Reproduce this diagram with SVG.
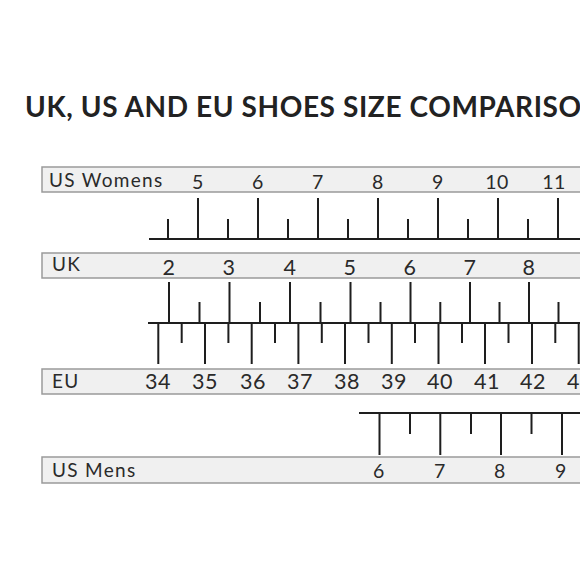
<svg xmlns="http://www.w3.org/2000/svg" width="580" height="580" viewBox="0 0 580 580">
<style>
.bar{fill:#f0f0f0;stroke:#9a9a9a;stroke-width:1.5}
.lbl{font-family:Lato,"Open Sans",sans-serif;font-size:19px;letter-spacing:1.3px;fill:#2a2a2a}
.num{font-family:Lato,"Open Sans",sans-serif;font-size:19.5px;letter-spacing:0.5px;fill:#2a2a2a;text-anchor:middle}
.big{font-size:21.5px}
.tk{stroke:#1e1e1e;stroke-width:2;fill:none}
.title{font-family:Lato,"Open Sans",sans-serif;font-size:28px;font-weight:bold;letter-spacing:0.6px;fill:#222}
</style>
<rect width="580" height="580" fill="#fff"/>
<text class="title" x="25" y="117">UK, US AND EU SHOES SIZE COMPARISON</text>

<g id="us-womens">
<rect class="bar" x="42" y="167" width="545" height="25"/>
<text class="lbl" x="49" y="187">US Womens</text>
<text class="num" x="198" y="189">5</text>
<text class="num" x="258" y="189">6</text>
<text class="num" x="318" y="189">7</text>
<text class="num" x="378" y="189">8</text>
<text class="num" x="438" y="189">9</text>
<text class="num" x="497" y="189">10</text>
<text class="num" x="554" y="189">11</text>
</g>

<g id="uk">
<rect class="bar" x="42" y="253" width="545" height="25"/>
<text class="lbl" x="52" y="271">UK</text>
<text class="num big" x="169" y="275">2</text>
<text class="num big" x="229" y="275">3</text>
<text class="num big" x="290" y="275">4</text>
<text class="num big" x="350" y="275">5</text>
<text class="num big" x="410" y="275">6</text>
<text class="num big" x="470" y="275">7</text>
<text class="num big" x="529" y="275">8</text>
</g>

<g id="eu">
<rect class="bar" x="42" y="369" width="545" height="25"/>
<text class="lbl" x="52" y="388">EU</text>
<text class="num big" x="158" y="389">34</text>
<text class="num big" x="205" y="389">35</text>
<text class="num big" x="253" y="389">36</text>
<text class="num big" x="300" y="389">37</text>
<text class="num big" x="347" y="389">38</text>
<text class="num big" x="394" y="389">39</text>
<text class="num big" x="440" y="389">40</text>
<text class="num big" x="487" y="389">41</text>
<text class="num big" x="533" y="389">42</text>
<text class="num big" x="580" y="389">43</text>
</g>

<g id="us-mens">
<rect class="bar" x="42" y="457" width="545" height="26"/>
<text class="lbl" x="52" y="477">US Mens</text>
<text class="num" x="379" y="478">6</text>
<text class="num" x="440" y="478">7</text>
<text class="num" x="500" y="478">8</text>
<text class="num" x="561" y="478">9</text>
</g>

<g id="connectors">
<!-- US Womens scale -->
<path class="tk" d="M149 239H582
M198 239V198 M258 239V198 M318 239V198 M378 239V198 M438 239V198 M498 239V198 M558 239V198
M168 239V219 M228 239V219 M288 239V219 M348 239V219 M408 239V219 M468 239V219 M528 239V219"/>
<!-- UK / EU scale -->
<path class="tk" d="M148 323H582
M169 323V282 M229.5 323V282 M290 323V282 M350.5 323V282 M410.5 323V282 M470 323V282 M529 323V282
M199.5 323V302 M260 323V302 M320.5 323V302 M380.5 323V302 M440.3 323V302 M499.5 323V302 M558.5 323V302
M158.3 323V364 M205 323V364 M251.7 323V364 M298.4 323V364 M345 323V364 M391.8 323V364 M438.5 323V364 M485 323V364 M532 323V364 M578.7 323V364
M181.7 323V343 M228.4 323V343 M275 323V343 M321.8 323V343 M368.5 323V343 M415 323V343 M462 323V343 M508.5 323V343 M555.3 323V343"/>
<!-- US Mens scale -->
<path class="tk" d="M359 413H582
M379.5 413V455 M440.3 413V455 M501 413V455 M562 413V455
M410 413V434 M471 413V434 M531.5 413V434"/>
</g>
</svg>
